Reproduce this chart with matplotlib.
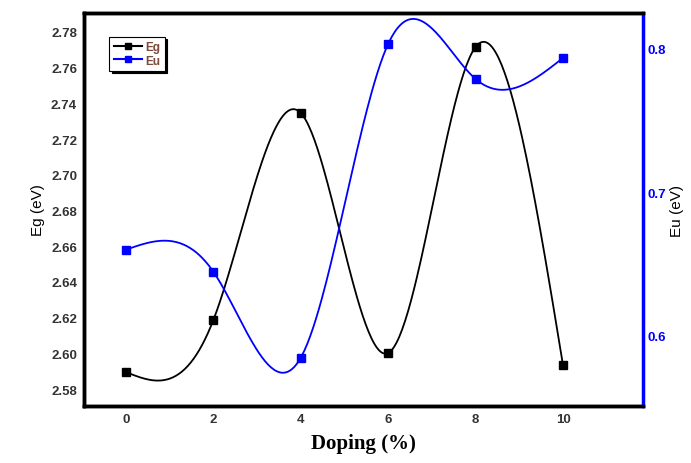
import numpy as np
import matplotlib.pyplot as plt

# data
doping = [0, 2, 4, 6, 8, 10]
eg = [2.5895, 2.6187, 2.7346, 2.6002, 2.7716, 2.5934]
eu = [0.660, 0.6446, 0.5847, 0.8035, 0.779, 0.7937]


def natural_spline(x, y, n=300):
    # natural cubic spline used only to draw the smooth connecting line
    x = np.asarray(x, float)
    y = np.asarray(y, float)
    k = len(x)
    h = np.diff(x)
    A = np.zeros((k, k))
    b = np.zeros(k)
    A[0, 0] = A[-1, -1] = 1
    for i in range(1, k - 1):
        A[i, i - 1] = h[i - 1]
        A[i, i] = 2 * (h[i - 1] + h[i])
        A[i, i + 1] = h[i]
        b[i] = 6 * ((y[i + 1] - y[i]) / h[i] - (y[i] - y[i - 1]) / h[i - 1])
    M = np.linalg.solve(A, b)
    xs = np.linspace(x[0], x[-1], n)
    idx = np.clip(np.searchsorted(x, xs) - 1, 0, k - 2)
    x0, x1 = x[idx], x[idx + 1]
    hh = x1 - x0
    ys = (M[idx] * (x1 - xs) ** 3 / (6 * hh) + M[idx + 1] * (xs - x0) ** 3 / (6 * hh)
          + (y[idx] / hh - M[idx] * hh / 6) * (x1 - xs)
          + (y[idx + 1] / hh - M[idx + 1] * hh / 6) * (xs - x0))
    return xs, ys


plt.rcParams['font.family'] = ['Liberation Sans', 'DejaVu Sans']

fig = plt.figure(figsize=(6.91, 4.64), dpi=100)
ax = fig.add_axes([0.1216, 0.1228, 0.8089, 0.847])
ax2 = ax.twinx()

xs, ys = natural_spline(doping, eg)
ax.plot(xs, ys, color='black', lw=1.3)
ax.plot(doping, eg, 's', color='black', ms=5.5)
l1, = ax.plot([], [], '-s', color='black', ms=4, lw=1.5, label='Eg')

xs, ys = natural_spline(doping, eu)
ax2.plot(xs, ys, color='#0000ff', lw=1.3)
ax2.plot(doping, eu, 's', color='#0000ff', ms=5.5)
l2, = ax2.plot([], [], '-s', color='#0000ff', ms=4, lw=1.5, label='Eu')

ax.set_xlim(-0.96, 11.83)
ax.set_ylim(2.5705, 2.7906)
ax2.set_ylim(0.551, 0.825)

ax.set_xticks([0, 2, 4, 6, 8, 10])
ax.set_yticks(np.arange(2.58, 2.7801, 0.02))
ax.set_yticklabels(['%.2f' % v for v in np.arange(2.58, 2.7801, 0.02)])
ax2.set_yticks([0.6, 0.7, 0.8])
ax2.set_yticklabels(['0.6', '0.7', '0.8'])

ax.tick_params(axis='both', length=0, labelsize=9.5, labelcolor='#333333', pad=5)
ax2.tick_params(axis='y', length=0, labelsize=9.5, labelcolor='#0000ff', pad=3)
for lab in ax.get_xticklabels() + ax.get_yticklabels() + ax2.get_yticklabels():
    lab.set_fontweight('bold')

for side in ['left', 'top', 'bottom']:
    ax.spines[side].set_linewidth(2.5)
    ax2.spines[side].set_linewidth(2.5)
ax2.spines['right'].set_color('#0000ff')
ax2.spines['right'].set_linewidth(2.5)

ax.set_ylabel('Eg (eV)', fontsize=11, labelpad=4)
ax2.set_ylabel('Eu (eV)', fontsize=11, labelpad=3)
ax.set_xlabel('Doping (%)', fontsize=15, fontweight='bold',
              family='Liberation Serif', labelpad=6)

leg = ax.legend(handles=[l1, l2], loc='upper left', bbox_to_anchor=(0.035, 0.955),
                prop={'size': 8.5, 'weight': 'bold'}, handlelength=2.4,
                handletextpad=0.3, borderpad=0.35, labelspacing=0.15,
                fancybox=False, shadow={'color': 'black', 'alpha': 1},
                framealpha=1)
leg.get_frame().set_edgecolor('black')
leg.get_frame().set_linewidth(0.8)
for t in leg.get_texts():
    t.set_color('#7a4a3a')

fig.savefig('out.png', dpi=100)
